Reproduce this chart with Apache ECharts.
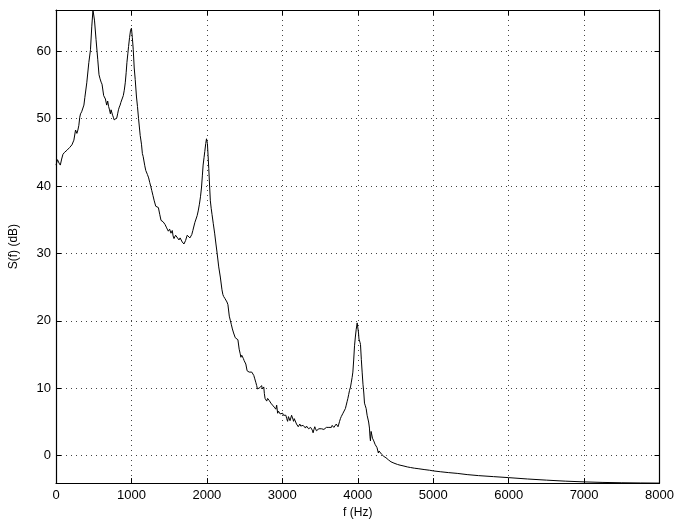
<!DOCTYPE html>
<html><head><meta charset="utf-8">
<script src="https://cdn.jsdelivr.net/npm/echarts@6/dist/echarts.min.js"></script>
<style>html,body{margin:0;padding:0;background:#fff}#c{width:677px;height:524px}</style>
</head><body><div id="c"></div>
<script>
const freqHz = [0,20,40,57,75,92,114,130,145,162,180,195,211,237,259,277,290,303,315,325,340,356,370,382,408,435,457,474,490,498,510,531,553,570,584,598,610,632,655,672,685,697,707,721,730,738,750,760,771,781,795,806,817,828,839,850,860,876,892,905,918,930,940,952,962,975,988,1000,1012,1024,1037,1050,1067,1080,1094,1116,1133,1145,1155,1165,1177,1190,1212,1228,1243,1257,1270,1285,1300,1322,1340,1357,1375,1392,1405,1419,1432,1445,1462,1475,1489,1506,1524,1541,1552,1564,1585,1607,1630,1645,1656,1673,1696,1717,1739,1750,1761,1775,1788,1800,1814,1841,1856,1871,1885,1901,1915,1928,1940,1950,1962,1972,1985,1995,2007,2016,2025,2036,2046,2057,2068,2085,2104,2120,2134,2157,2178,2200,2212,2223,2240,2253,2266,2279,2297,2310,2323,2338,2354,2376,2395,2411,2428,2440,2451,2462,2473,2484,2494,2505,2516,2533,2546,2560,2577,2595,2608,2622,2635,2648,2660,2670,2680,2691,2703,2714,2725,2736,2745,2754,2762,2771,2782,2793,2805,2816,2826,2837,2848,2859,2870,2882,2893,2903,2914,2925,2938,2949,2960,2971,2982,2993,3004,3015,3026,3037,3047,3058,3070,3081,3092,3102,3113,3123,3132,3141,3149,3158,3166,3177,3188,3199,3211,3222,3232,3243,3254,3265,3276,3290,3307,3320,3333,3348,3364,3375,3386,3397,3408,3419,3430,3441,3452,3463,3474,3485,3496,3507,3518,3529,3540,3551,3562,3573,3584,3595,3606,3617,3628,3639,3650,3661,3672,3683,3693,3704,3715,3727,3738,3749,3759,3770,3781,3793,3804,3815,3825,3836,3847,3858,3869,3880,3891,3904,3913,3925,3935,3946,3957,3968,3979,3992,4002,4010,4016,4022,4030,4036,4047,4058,4069,4080,4089,4100,4111,4124,4133,4144,4155,4162,4168,4177,4186,4195,4203,4212,4220,4229,4243,4255,4264,4273,4282,4292,4300,4317,4331,4345,4360,4374,4390,4405,4418,4430,4440,4452,4462,4480,4500,4528,4560,4600,4660,4700,4750,4800,4879,4950,5000,5100,5200,5318,5450,5600,5800,6000,6250,6500,6750,7000,7250,7500,7750,8000];
const levelDb = [43.1,43.9,43.4,43.1,44.0,44.7,45.0,44.8,45.3,45.5,45.7,45.6,46.1,46.8,48.3,47.8,48.3,49.0,50.2,50.7,51.0,51.2,52.0,53.1,55.3,58.3,60.2,63.6,66.1,66.1,64.6,61.7,58.8,56.5,55.9,55.4,55.1,53.4,52.9,52.0,52.6,51.8,51.4,50.7,51.3,51.2,50.5,50.2,49.8,49.7,49.7,50.1,50.7,51.3,51.7,52.0,52.4,52.9,53.4,54.2,55.3,56.8,58.3,59.6,60.7,62.0,63.1,63.4,62.0,60.2,57.5,55.8,53.2,51.8,50.0,47.5,46.2,44.8,44.4,44.2,43.0,42.3,41.7,41.2,40.5,39.9,39.3,38.6,37.9,37.0,36.9,36.8,35.8,34.9,34.8,34.7,34.5,34.3,33.9,33.6,33.3,33.6,33.0,33.4,32.6,32.2,32.7,32.9,32.0,32.3,32.3,31.7,31.4,31.9,32.7,32.6,32.5,32.3,32.2,32.8,33.4,34.6,35.1,35.6,36.3,37.3,38.4,39.7,41.5,43.1,44.2,45.1,46.3,47.0,46.3,44.5,42.6,40.0,37.8,36.7,35.8,34.4,32.9,31.4,30.2,28.0,26.5,24.6,23.9,23.6,23.3,23.1,22.8,22.4,20.7,20.1,19.5,18.8,18.2,17.5,17.3,17.2,15.8,15.2,14.6,14.9,14.9,14.4,14.1,13.9,13.6,12.6,12.6,12.4,12.5,12.4,12.2,11.9,11.4,10.9,10.4,9.9,9.8,9.7,10.1,10.0,10.4,9.9,9.7,10.2,9.2,8.5,8.3,8.1,8.5,8.4,8.2,8.0,7.8,7.6,7.5,7.3,7.2,7.0,6.9,7.5,6.3,6.6,6.5,6.2,6.0,6.4,6.3,6.0,5.8,5.9,6.0,5.5,5.1,5.8,5.7,5.2,5.3,6.0,6.2,5.4,5.1,5.5,5.6,5.0,4.7,4.9,4.3,4.5,4.7,4.4,4.2,4.4,4.5,4.3,4.1,4.4,4.3,4.0,3.9,4.2,4.1,3.8,3.4,3.9,4.3,4.0,3.7,3.8,3.9,4.0,4.2,4.0,4.0,4.2,4.1,3.9,4.0,4.1,4.2,4.0,4.1,4.2,4.3,4.1,4.2,4.5,4.6,4.2,4.1,4.4,4.7,4.5,4.3,4.7,5.1,5.5,5.8,6.0,6.3,6.4,6.5,7.0,7.5,8.0,8.5,9.1,9.7,10.2,10.8,11.6,12.4,14.2,16.3,17.6,18.7,19.7,19.5,18.2,17.3,17.3,16.8,16.5,14.3,12.4,10.6,9.3,7.8,7.4,7.0,6.0,5.8,5.0,4.1,2.8,2.2,3.6,3.4,2.6,2.4,2.2,2.0,1.7,1.6,1.2,1.2,0.4,0.7,0.6,0.5,0.2,0.0,-0.1,-0.2,-0.3,-0.5,-0.6,-0.8,-0.8,-0.9,-1.0,-1.0,-1.1,-1.2,-1.3,-1.4,-1.5,-1.67,-1.75,-1.85,-1.92,-2.05,-2.15,-2.25,-2.38,-2.5,-2.62,-2.8,-2.95,-3.1,-3.25,-3.45,-3.62,-3.77,-3.88,-3.96,-4.01,-4.04,-4.06];
const xTickValues = [0,1000,2000,3000,4000,5000,6000,7000,8000];
const yTickValues = [0,10,20,30,40,50,60];
const xLabel = 'f (Hz)';
const yLabel = 'S(f) (dB)';

const chart = echarts.init(document.getElementById('c'), null, {renderer: 'canvas'});
const font = 'Liberation Sans';
const gridLine = {show: true, lineStyle: {color: '#444', width: 1, type: [1, 4]}};
const axisLine = {show: true, onZero: false, lineStyle: {color: '#000', width: 1.2}};
const tick = {show: true, inside: true, length: 5, lineStyle: {color: '#000', width: 1}};
const yMin = -4.06, yMax = 66.1;
const plain = v => String(v);
chart.setOption({
  animation: false,
  backgroundColor: '#fff',
  grid: {left: 53, top: 10, right: 17, bottom: 35, containLabel: false},
  xAxis: [
    {type: 'value', min: 0, max: 8000, interval: 1000, position: 'bottom',
     name: xLabel, nameLocation: 'middle', nameGap: 21,
     nameTextStyle: {fontFamily: font, fontSize: 12, color: '#000'},
     axisLine: axisLine, axisTick: Object.assign({customValues: xTickValues}, tick),
     axisLabel: {customValues: xTickValues, formatter: plain, fontFamily: font, fontSize: 13, color: '#000', margin: 6, showMinLabel: true, showMaxLabel: true},
     splitLine: gridLine},
    {type: 'value', min: 0, max: 8000, interval: 1000, position: 'top',
     axisLine: axisLine, axisTick: tick, axisLabel: {show: false}, splitLine: {show: false}}
  ],
  yAxis: [
    {type: 'value', min: yMin, max: yMax, position: 'left',
     name: yLabel, nameLocation: 'middle', nameGap: 36, nameRotate: 90,
     nameTextStyle: {fontFamily: font, fontSize: 12, color: '#000'},
     axisLine: axisLine,
     axisTick: Object.assign({customValues: yTickValues}, tick),
     axisLabel: {customValues: yTickValues, formatter: plain, fontFamily: font, fontSize: 13, color: '#000', margin: 5},
     splitLine: gridLine},
    {type: 'value', min: yMin, max: yMax, position: 'right',
     axisLine: axisLine,
     axisTick: Object.assign({customValues: yTickValues}, tick),
     axisLabel: {show: false, customValues: yTickValues}, splitLine: {show: false}}
  ],
  series: [{
    type: 'line', xAxisIndex: 0, yAxisIndex: 0,
    data: freqHz.map((f, i) => [f, levelDb[i]]),
    showSymbol: false, symbol: 'none',
    lineStyle: {color: '#000', width: 1},
    clip: true
  }]
});
</script></body></html>
